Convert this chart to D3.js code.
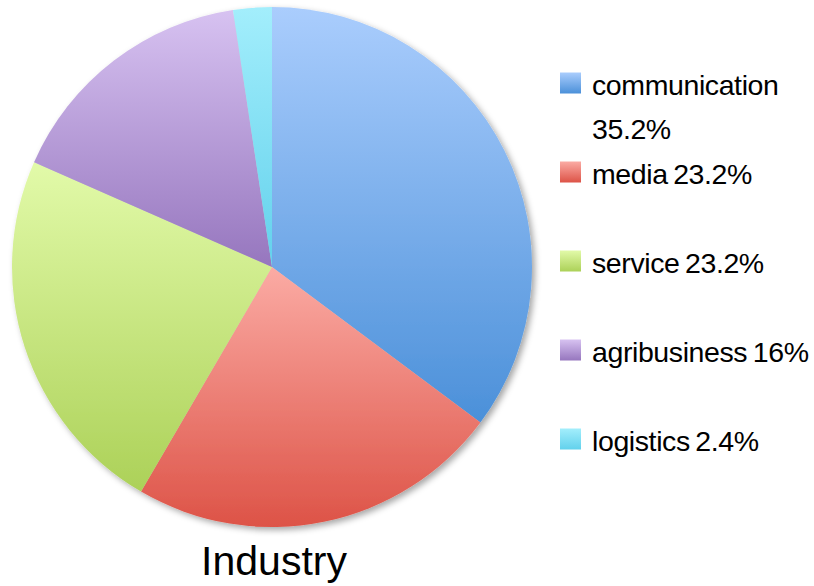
<!DOCTYPE html>
<html>
<head>
<meta charset="utf-8">
<script src="https://cdn.jsdelivr.net/npm/d3@7"></script>
<style>
  html, body { margin: 0; padding: 0; background: #fff; }
  svg { display: block; }
</style>
</head>
<body>
<svg id="chart" width="814" height="586"></svg>
<script>
// Industry shares (percent)
const categories = ["communication", "media", "service", "agribusiness", "logistics"];
const values = [35.2, 23.2, 23.2, 16, 2.4];
const legendLabels = ["communication 35.2%", "media 23.2%", "service 23.2%", "agribusiness 16%", "logistics 2.4%"];
const title = "Industry";

// light (top) and dark (bottom) stops of each slice's gradient
const topColors = ["#aacdfd", "#fbaba4", "#e2faa9", "#d7c2f1", "#a3eefc"];
const bottomColors = ["#4b90d9", "#dd5347", "#acd158", "#9676be", "#62d1ec"];

const svg = d3.select("#chart");
const cx = 272, cy = 267, r = 260;

const defs = svg.append("defs");

const shadow = defs.append("filter").attr("id", "shadow")
  .attr("x", "-10%").attr("y", "-10%").attr("width", "120%").attr("height", "120%");
shadow.append("feDropShadow")
  .attr("dx", 3).attr("dy", 3).attr("stdDeviation", 3)
  .attr("flood-color", "#000").attr("flood-opacity", 0.35);

categories.forEach((c, i) => {
  const g = defs.append("linearGradient").attr("id", "grad-" + i)
    .attr("x1", 0).attr("y1", 0).attr("x2", 0).attr("y2", 1);
  g.append("stop").attr("offset", "0%").attr("stop-color", topColors[i]);
  g.append("stop").attr("offset", "100%").attr("stop-color", bottomColors[i]);
});

const pie = d3.pie().sort(null).value(d => d)
  .startAngle(0).endAngle(2 * Math.PI);
const arc = d3.arc().innerRadius(0).outerRadius(r);

const pieG = svg.append("g")
  .attr("transform", `translate(${cx},${cy})`)
  .attr("filter", "url(#shadow)");

pieG.selectAll("path")
  .data(pie(values))
  .join("path")
  .attr("d", arc)
  .attr("fill", (d, i) => `url(#grad-${i})`);

// Title below the pie
svg.append("text")
  .attr("x", 274).attr("y", 575)
  .attr("text-anchor", "middle")
  .attr("font-family", "Liberation Sans, Arial, sans-serif")
  .attr("font-size", 41)
  .attr("fill", "#000")
  .text(title);

// Legend
const legendY = d3.scalePoint().domain(categories).range([83, 439]);
const legendX = 560, sw = 21, textX = 592, maxW = 222, lineH = 44;

const legend = svg.append("g");
categories.forEach((c, i) => {
  const y = legendY(c);
  const g = legend.append("g");
  g.append("rect")
    .attr("x", legendX).attr("y", y - sw / 2)
    .attr("width", sw).attr("height", sw)
    .attr("fill", `url(#grad-${i})`);
  const t = g.append("text")
    .attr("font-family", "Liberation Sans, Arial, sans-serif")
    .attr("font-size", 28.5)
    .attr("letter-spacing", -0.4)
    .attr("word-spacing", -2)
    .attr("fill", "#000");
  // wrap words to fit the legend width
  const words = legendLabels[i].split(" ");
  let line = [], lineNo = 0;
  let tspan = t.append("tspan").attr("x", textX).attr("y", y + 12);
  words.forEach(w => {
    line.push(w);
    tspan.text(line.join(" "));
    if (tspan.node().getComputedTextLength() > maxW && line.length > 1) {
      line.pop();
      tspan.text(line.join(" "));
      line = [w];
      lineNo++;
      tspan = t.append("tspan").attr("x", textX).attr("y", y + 12 + lineNo * lineH).text(w);
    }
  });
});
</script>
</body>
</html>
